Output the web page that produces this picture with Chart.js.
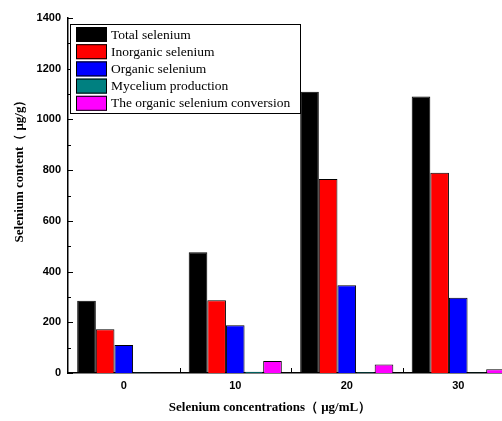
<!DOCTYPE html>
<html>
<head>
<meta charset="utf-8">
<script src="https://cdn.jsdelivr.net/npm/chart.js@4"></script>
<style>
  html, body { margin: 0; padding: 0; background: #fff; overflow: hidden; }
  canvas { display: block; }
</style>
</head>
<body>
<canvas id="chart" width="514" height="421"></canvas>
<script>
// Data
const concentrations = ['0', '10', '20', '30'];
const totalSe = [285, 476, 1109, 1090];
const inorganicSe = [173, 287, 765, 790];
const organicSe = [110, 188, 346, 297];
const mycelium = [2, 5, 3, 2];
const conversion = [0, 47, 34, 15];
const seriesNames = ['Total selenium', 'Inorganic selenium', 'Organic selenium', 'Mycelium production', 'The organic selenium conversion'];
const seriesColors = ['#000000', '#ff0000', '#0000ff', '#008080', '#ff00ff'];
const yTicks = [0, 200, 400, 600, 800, 1000, 1200, 1400];

const serif = '"Liberation Serif", "Times New Roman", serif';
const sans = '"Liberation Sans", Arial, sans-serif';

// axis titles, tick marks and the boxed legend
const decorations = {
  id: 'decorations',
  afterDraw(chart) {
    const ctx = chart.ctx;
    const area = chart.chartArea;
    const x = chart.scales.x;
    const y = chart.scales.y;
    ctx.save();
    ctx.strokeStyle = '#000';
    ctx.lineWidth = 1;

    // y ticks (inside)
    for (let v = 0; v <= 1400; v += 100) {
      const py = Math.round(y.getPixelForValue(v)) + 0.5;
      const len = v % 200 === 0 ? 5 : 3;
      ctx.beginPath();
      ctx.moveTo(area.left, py);
      ctx.lineTo(area.left + len, py);
      ctx.stroke();
    }
    // x ticks at group boundaries
    for (let i = 0; i < concentrations.length - 1; i++) {
      const px = Math.round((x.getPixelForValue(i) + x.getPixelForValue(i + 1)) / 2) + 0.5;
      ctx.beginPath();
      ctx.moveTo(px, area.bottom);
      ctx.lineTo(px, area.bottom - 5);
      ctx.stroke();
    }

    // axis titles
    ctx.fillStyle = '#000';
    ctx.font = 'bold 13px ' + serif;
    ctx.textAlign = 'center';
    ctx.textBaseline = 'middle';
    ctx.fillText('Selenium concentrations（ μg/mL）', 270, 408);
    ctx.save();
    ctx.translate(20, 168);
    ctx.rotate(-Math.PI / 2);
    ctx.fillText('Selenium content（ μg/g）', 0, 0);
    ctx.restore();

    // legend
    ctx.fillStyle = '#fff';
    ctx.fillRect(70, 24, 230, 89);
    ctx.strokeRect(70.5, 24.5, 230, 89);
    ctx.font = '13.5px ' + serif;
    ctx.textAlign = 'left';
    seriesNames.forEach((name, i) => {
      const ry = 27 + i * 17.2;
      ctx.fillStyle = seriesColors[i];
      ctx.fillRect(76, ry, 31, 15);
      ctx.strokeRect(76.5, ry + 0.5, 30, 14);
      ctx.fillStyle = '#000';
      ctx.fillText(name, 111, ry + 8);
    });
    ctx.restore();
  }
};

const values = [totalSe, inorganicSe, organicSe, mycelium, conversion];

new Chart(document.getElementById('chart'), {
  type: 'bar',
  data: {
    labels: concentrations,
    datasets: seriesNames.map((name, i) => ({
      label: name,
      data: values[i],
      backgroundColor: seriesColors[i],
      borderColor: '#000',
      borderWidth: 1,
      categoryPercentage: 0.835,
      barPercentage: 1
    }))
  },
  options: {
    responsive: false,
    animation: false,
    layout: { padding: { top: 18, left: 0, right: 0, bottom: 0 } },
    plugins: { legend: { display: false }, tooltip: { enabled: false } },
    scales: {
      x: {
        grid: { display: false, drawTicks: false },
        border: { color: '#000', width: 1.5 },
        ticks: { color: '#000', padding: 6, font: { family: sans, size: 11, weight: 'bold' } },
        afterFit(scale) { scale.height = 48; }
      },
      y: {
        min: 0,
        max: 1400,
        grid: { display: false, drawTicks: false },
        border: { color: '#000', width: 1.5 },
        afterBuildTicks(scale) { scale.ticks = yTicks.map(v => ({ value: v })); },
        ticks: {
          color: '#000',
          padding: 7,
          font: { family: sans, size: 11, weight: 'bold' },
          callback: v => String(v)
        },
        afterFit(scale) { scale.width = 68; }
      }
    }
  },
  plugins: [decorations]
});
</script>
</body>
</html>
